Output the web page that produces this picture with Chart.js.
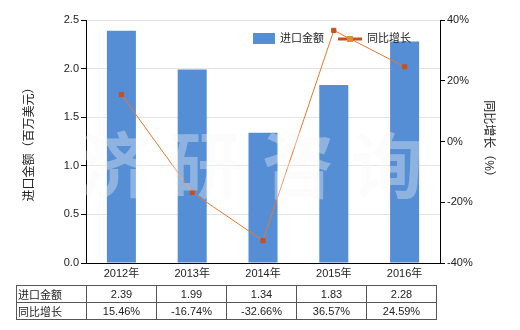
<!DOCTYPE html>
<html>
<head>
<meta charset="utf-8">
<script src="https://cdn.jsdelivr.net/npm/chart.js@4"></script>
<style>
  html, body { margin: 0; padding: 0; background: #fff; }
  #wrap { position: relative; width: 520px; height: 330px; }
  #chart { position: absolute; left: 0; top: 0; }
  table {
    position: absolute; left: 16px; top: 285px;
    border-collapse: collapse; table-layout: fixed;
    font: 11px "Liberation Sans", "Noto Sans CJK SC", sans-serif; color: #222;
  }
  td { border: 1px solid #555; height: 16px; padding: 0; text-align: center; width: 69px; }
  td.head { text-align: left; padding-left: 1px; width: 68px; }
</style>
</head>
<body>
<div id="wrap">
  <canvas id="chart" width="520" height="330"></canvas>
  <table id="dataTable"></table>
</div>
<script>
const years = ['2012年', '2013年', '2014年', '2015年', '2016年'];
const importValue = [2.39, 1.99, 1.34, 1.83, 2.28];
const yoyGrowth = [15.46, -16.74, -32.66, 36.57, 24.59];
const leftTicks = [0, 0.5, 1.0, 1.5, 2.0, 2.5];
const rightTicks = [-40, -20, 0, 20, 40];

const FONT = '"Liberation Sans", "Noto Sans CJK SC", sans-serif';
const BAR_COLOR = '#558ED5';
const LINE_COLOR = '#E8782F';
const MARK_COLOR = '#C8501E';

// Table below the chart
const table = document.getElementById('dataTable');
function addRow(label, values) {
  const tr = document.createElement('tr');
  const th = document.createElement('td');
  th.className = 'head';
  th.textContent = label;
  tr.appendChild(th);
  values.forEach(v => {
    const td = document.createElement('td');
    td.textContent = v;
    tr.appendChild(td);
  });
  table.appendChild(tr);
}
addRow('进口金额', importValue.map(v => v.toFixed(2)));
addRow('同比增长', yoyGrowth.map(v => v.toFixed(2) + '%'));

// Watermark and legend
const extras = {
  id: 'extras',
  afterDatasetsDraw(chart) {
    const ctx = chart.ctx;
    ctx.save();
    ctx.font = 'bold 72px "Noto Sans CJK SC", sans-serif';
    ctx.fillStyle = 'rgba(248,248,248,0.36)';
    ctx.textAlign = 'center';
    ctx.textBaseline = 'middle';
    const chars = ['济', '研', '咨', '询'];
    const xs = [115, 205, 298, 387];
    chars.forEach((c, i) => ctx.fillText(c, xs[i], 165));

    // legend
    ctx.font = '11px ' + FONT;
    ctx.textBaseline = 'middle';
    ctx.textAlign = 'left';
    ctx.fillStyle = BAR_COLOR;
    ctx.fillRect(253, 33, 22, 11);
    ctx.fillStyle = '#222';
    ctx.fillText('进口金额', 280, 39);
    ctx.strokeStyle = MARK_COLOR;
    ctx.lineWidth = 3;
    ctx.beginPath();
    ctx.moveTo(338, 39);
    ctx.lineTo(362, 39);
    ctx.stroke();
    ctx.fillStyle = '#E09030';
    ctx.fillRect(347, 36, 6, 6);
    ctx.fillStyle = '#222';
    ctx.fillText('同比增长', 367, 39);
    ctx.restore();
  }
};

new Chart(document.getElementById('chart'), {
  data: {
    labels: years,
    datasets: [
      {
        type: 'line',
        label: '同比增长',
        data: yoyGrowth,
        yAxisID: 'y1',
        borderColor: LINE_COLOR,
        borderWidth: 1,
        pointStyle: 'rect',
        pointRadius: 3,
        pointBackgroundColor: MARK_COLOR,
        pointBorderColor: MARK_COLOR,
        tension: 0,
        order: 0
      },
      {
        type: 'bar',
        label: '进口金额',
        data: importValue,
        yAxisID: 'y',
        backgroundColor: BAR_COLOR,
        categoryPercentage: 1,
        barPercentage: 0.41,
        order: 1
      }
    ]
  },
  options: {
    responsive: false,
    animation: false,
    layout: { padding: { top: 20, bottom: 47, left: 22, right: 24 } },
    plugins: { legend: { display: false }, tooltip: { enabled: false } },
    scales: {
      x: {
        grid: { display: false, drawTicks: false },
        border: { color: '#000' },
        ticks: { color: '#222', font: { size: 11, family: FONT }, padding: 4 },
        afterFit(scale) { scale.height = 20; }
      },
      y: {
        position: 'left',
        min: 0, max: 2.5,
        afterBuildTicks(scale) { scale.ticks = leftTicks.map(v => ({ value: v })); },
        grid: { color: '#e4e4e4', tickColor: '#000', tickLength: 5 },
        border: { color: '#000' },
        ticks: { color: '#222', font: { size: 11, family: FONT }, padding: 2,
                 callback: v => v.toFixed(1) },
        title: { display: true, text: '进口金额（百万美元）', color: '#222',
                 font: { size: 12, family: FONT }, padding: 0 },
        afterFit(scale) { scale.width = 64; }
      },
      y1: {
        position: 'right',
        min: -40, max: 40,
        afterBuildTicks(scale) { scale.ticks = rightTicks.map(v => ({ value: v })); },
        grid: { drawOnChartArea: false, tickColor: '#000', tickLength: 5 },
        border: { color: '#000' },
        ticks: { color: '#222', font: { size: 11, family: FONT }, padding: 2,
                 callback: v => v + '%' },
        title: { display: true, text: '同比增长（%）', color: '#222',
                 font: { size: 12, family: FONT }, padding: 0 },
        afterFit(scale) { scale.width = 56; }
      }
    }
  },
  plugins: [extras]
});
</script>
</body>
</html>
